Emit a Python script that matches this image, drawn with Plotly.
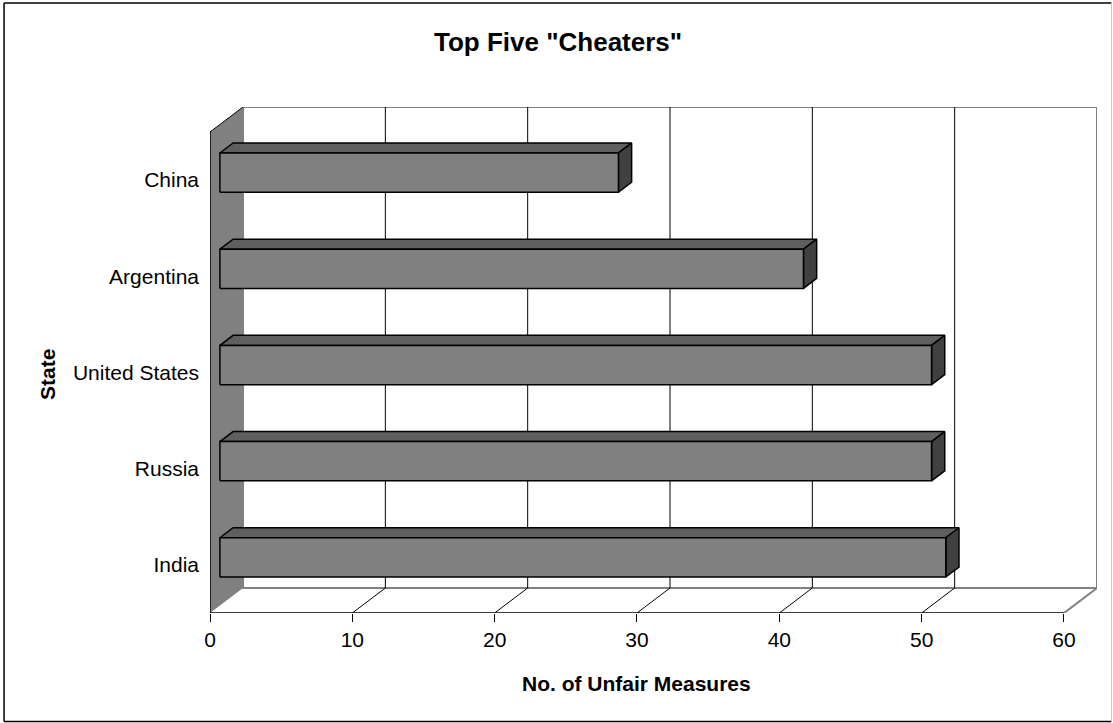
import plotly.graph_objects as go

# Data (bottom to top)
states = ["India", "Russia", "United States", "Argentina", "China"]
measures = [51, 50, 50, 41, 28]
x_ticks = [0, 10, 20, 30, 40, 50, 60]

# Pseudo-3D geometry in axis units
DX = 2.32      # depth shift along x
DY = 0.26      # depth shift along y
F1, F2 = 0.30, 0.70   # bar front / back depth fractions
H = 0.204      # bar half-height
XMAX = 60

FONT = "Liberation Sans, Arial, sans-serif"

fig = go.Figure()

# 3D bars: top face, side face, front face
for i, v in enumerate(measures):
    c = i
    ax0, ax1 = F1 * DX, v + F1 * DX
    bx0, bx1 = F2 * DX, v + F2 * DX
    ylo1, yhi1 = c - H + F1 * DY, c + H + F1 * DY
    ylo2, yhi2 = c - H + F2 * DY, c + H + F2 * DY
    faces = [
        ([ax0, ax1, bx1, bx0, ax0], [yhi1, yhi1, yhi2, yhi2, yhi1], "#5f5f5f"),
        ([ax1, ax1, bx1, bx1, ax1], [ylo1, yhi1, yhi2, ylo2, ylo1], "#404040"),
        ([ax0, ax1, ax1, ax0, ax0], [ylo1, ylo1, yhi1, yhi1, ylo1], "#808080"),
    ]
    for fx, fy, col in faces:
        fig.add_trace(go.Scatter(
            x=fx, y=fy, mode="lines", fill="toself", fillcolor=col,
            line=dict(color="black", width=1.5), hoverinfo="skip",
            showlegend=False))

shapes = []
# back wall
shapes.append(dict(type="rect", xref="x", yref="y", x0=DX, x1=XMAX + DX,
                   y0=-0.5 + DY, y1=len(states) - 0.5 + DY,
                   fillcolor="white", line=dict(color="#808080", width=2),
                   layer="below"))
# gridlines on back wall and floor diagonals
for k in x_ticks[1:]:
    if k < XMAX:
        shapes.append(dict(type="line", xref="x", yref="y", x0=k + DX, x1=k + DX,
                           y0=-0.5 + DY, y1=len(states) - 0.5 + DY,
                           line=dict(color="black", width=1), layer="below"))
    shapes.append(dict(type="line", xref="x", yref="y", x0=k, x1=k + DX,
                       y0=-0.5, y1=-0.5 + DY,
                       line=dict(color="#808080" if k == XMAX else "black",
                                 width=2 if k == XMAX else 1),
                       layer="below"))
# left side wall
top = len(states) - 0.5
shapes.append(dict(type="path", xref="x", yref="y",
                   path=f"M 0,-0.5 L 0,{top} L {DX},{top + DY} L {DX},{-0.5 + DY} Z",
                   fillcolor="#808080", line=dict(width=0), layer="below"))
shapes.append(dict(type="line", xref="x", yref="y", x0=0, x1=0, y0=-0.5, y1=top,
                   line=dict(color="black", width=1.5), layer="below"))
shapes.append(dict(type="line", xref="x", yref="y", x0=0, x1=DX, y0=top, y1=top + DY,
                   line=dict(color="black", width=1), layer="below"))
# front baseline
shapes.append(dict(type="line", xref="x", yref="y", x0=0, x1=XMAX, y0=-0.5, y1=-0.5,
                   line=dict(color="black", width=1.5), layer="below"))
# category boundary ticks
for b in range(len(states) + 1):
    shapes.append(dict(type="line", xref="x", yref="y", xsizemode="pixel", xanchor=0,
                       x0=-8, x1=0, y0=b - 0.5, y1=b - 0.5,
                       line=dict(color="black", width=1)))

# chart border
L, R, T, B = -0.2322, 1.0163, 1.2055, -0.2144
shapes += [
    dict(type="line", xref="paper", yref="paper", x0=L, x1=R, y0=T, y1=T,
         line=dict(color="black", width=1.5)),
    dict(type="line", xref="paper", yref="paper", x0=L, x1=L, y0=B, y1=T,
         line=dict(color="black", width=1.5)),
    dict(type="line", xref="paper", yref="paper", x0=L, x1=R, y0=B, y1=B,
         line=dict(color="black", width=1.5)),
    dict(type="line", xref="paper", yref="paper", x0=R, x1=R, y0=B, y1=T,
         line=dict(color="#c8c8c8", width=1)),
]

annotations = [
    dict(text='<b>Top Five "Cheaters"</b>', xref="paper", yref="paper",
         x=0.3923, y=1.1275, xanchor="center", yanchor="middle", showarrow=False,
         font=dict(family=FONT, size=26, color="black")),
    dict(text="<b>No. of Unfair Measures</b>", xref="x", yref="paper",
         x=30, y=-0.1403, xanchor="center", yanchor="middle", showarrow=False,
         font=dict(family=FONT, size=21, color="black")),
    dict(text="<b>State</b>", xref="paper", yref="paper", textangle=-90,
         x=-0.1826, y=0.4704, xanchor="center", yanchor="middle", showarrow=False,
         font=dict(family=FONT, size=21, color="black")),
]

fig.update_layout(
    width=1113, height=723,
    margin=dict(l=210, r=16, t=107, b=110),
    paper_bgcolor="white", plot_bgcolor="white",
    font=dict(family=FONT, size=21, color="black"),
    shapes=shapes, annotations=annotations,
    xaxis=dict(range=[0, XMAX + DX], tickvals=x_ticks, ticks="outside", ticklen=8,
               tickcolor="black", tickwidth=1, showgrid=False, zeroline=False,
               showline=False, tickfont=dict(size=21)),
    yaxis=dict(range=[-0.5, len(states) - 0.5 + DY], tickvals=list(range(len(states))),
               ticktext=states, ticks="", showgrid=False, zeroline=False,
               showline=False, ticklabelstandoff=10, tickfont=dict(size=21)),
)

fig.write_html("out.html")
